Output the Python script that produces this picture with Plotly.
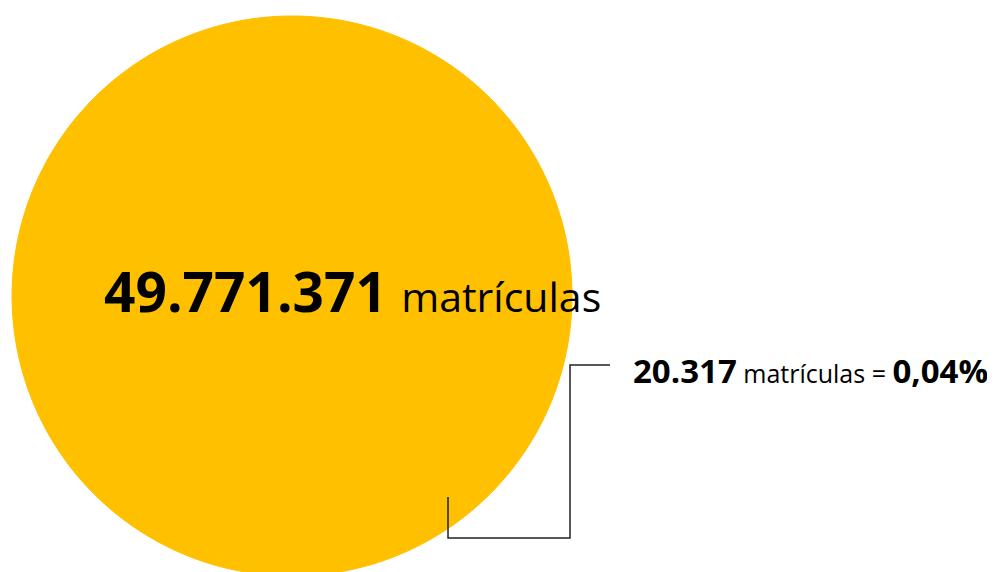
import plotly.graph_objects as go

# data
labels = ["Demais matrículas", "Matrículas destacadas"]
values = [49771371, 20317]
colors = ["#FFC000", "#FFC000"]

W, H = 987, 572
OFF = 8  # page body margin, positions below are page pixels


def fmt_int(n):
    return f"{n:,}".replace(",", ".")


def px_x(x):
    return (x - OFF) / W


def px_y(y):
    return 1 - (y - OFF) / H


total_main = values[0]
small = values[1]
pct = small / sum(values) * 100
pct_txt = f"{pct:.2f}".replace(".", ",") + "%"

fig = go.Figure()
fig.add_trace(go.Pie(
    labels=labels, values=values,
    marker=dict(colors=colors, line=dict(color="#FFC000", width=1)),
    textinfo="none", hoverinfo="label+value+percent",
    sort=False, direction="clockwise", rotation=144,
    domain=dict(x=[px_x(12), px_x(572)], y=[px_y(576), px_y(16)]),
    showlegend=False,
))

# big label in the circle
fig.add_annotation(
    x=px_x(352), y=px_y(290), xref="paper", yref="paper",
    text=f"<b>{fmt_int(total_main)}</b> <span style='font-size:41px'>matrículas</span>",
    showarrow=False, xanchor="center", yanchor="middle",
    font=dict(family="Open Sans", size=55, color="#000000"),
)

# small label
fig.add_annotation(
    x=px_x(631), y=px_y(370), xref="paper", yref="paper",
    text=(f"<b>{fmt_int(small)}</b><span style='font-size:25px'> matrículas = </span>"
          f"<b>{pct_txt}</b>"),
    showarrow=False, xanchor="left", yanchor="middle",
    font=dict(family="Open Sans", size=33, color="#000000"),
)

# elbow connector
pts = [(448, 497), (448, 538), (570, 538), (570, 365), (610, 365)]
path = "M " + " L ".join(f"{px_x(x)},{px_y(y)}" for x, y in pts)
fig.add_shape(type="path", path=path, xref="paper", yref="paper",
              line=dict(color="#222222", width=1.5))

fig.update_layout(
    width=W, height=H,
    margin=dict(l=0, r=0, t=0, b=0),
    paper_bgcolor="white", plot_bgcolor="white",
)

fig.write_html("out.html")
